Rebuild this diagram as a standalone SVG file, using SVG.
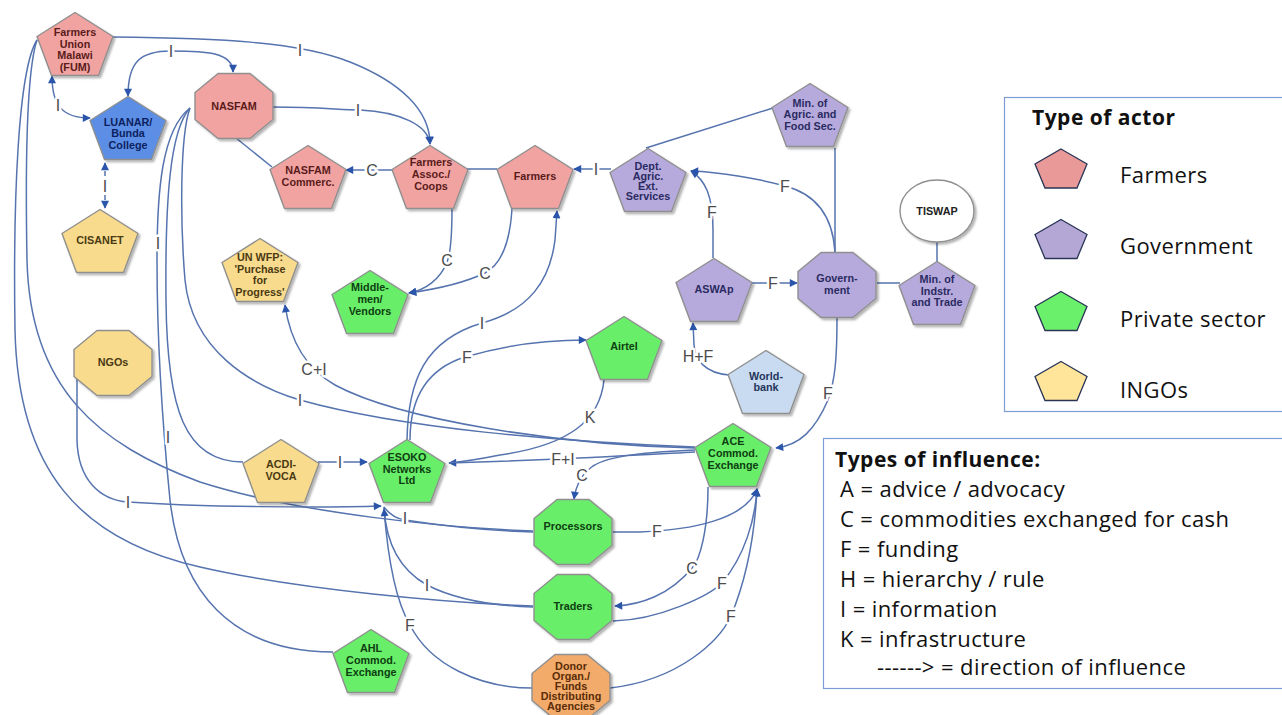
<svg xmlns="http://www.w3.org/2000/svg" xmlns:xlink="http://www.w3.org/1999/xlink" width="1282" height="715" viewBox="0 0 1282 715">
<style>
.bg{fill:#fff}
.shape{stroke:#8f8f8f;stroke-width:1.4;stroke-linejoin:round;filter:url(#sh)}
.pink .shape{fill:#f1a3a1}.pink text{fill:#5a1b1b}
.purple .shape{fill:#b6aadc}.purple text{fill:#2b2a62}
.green .shape{fill:#69ee6b}.green text{fill:#0d3f10}
.yellow .shape{fill:#f9db8e}.yellow text{fill:#4a3a12}
.blue .shape{fill:#5b8ee6}.blue text{fill:#0c1f5e}
.lblue .shape{fill:#c9dbf1}.lblue text{fill:#24365a}
.orange .shape{fill:#f2ab6b}.orange text{fill:#5a2c08}
.white .shape{fill:#fff}.white text{fill:#222}
.node text{font-family:"Liberation Sans",Arial,sans-serif;font-weight:bold;font-size:10.8px;text-anchor:middle}
.edges path{fill:none;stroke:#5573ae;stroke-width:1.5}
.edges .dash{stroke-dasharray:5 3}
.lab text{font-family:"Liberation Sans",Arial,sans-serif;font-size:16px;fill:#4d4d4d;text-anchor:middle;stroke:#fff;stroke-width:5;paint-order:stroke;stroke-linejoin:round}
.leg rect{fill:#fff;stroke:#7c9cd6;stroke-width:1.2}
.leg text{font-family:"Open Sans","Liberation Sans",sans-serif;font-size:22px;letter-spacing:0.4px;fill:#111}
.leg .t{font-weight:bold;font-size:21px;letter-spacing:0.5px}
.leg .ls{stroke:#2a3556;stroke-width:1.3}
</style>
<defs>
<filter id="sh" x="-20%" y="-20%" width="150%" height="150%"><feDropShadow dx="2" dy="2" stdDeviation="1.3" flood-color="#000" flood-opacity="0.3"/></filter>
<path id="pent" d="M0,-31.5 L38,-7.5 L23.5,31.5 L-23.5,31.5 L-38,-7.5 Z"/>
<path id="oct" d="M-16,-32.5 L16,-32.5 L39,-13.5 L39,13.5 L16,32.5 L-16,32.5 L-39,13.5 L-39,-13.5 Z"/>
<path id="lpent" d="M0,-19.5 L26,-4.5 L16,19.5 L-16,19.5 L-26,-4.5 Z"/>
<marker id="arr" viewBox="0 0 10 10" refX="9" refY="5" markerWidth="9" markerHeight="8" markerUnits="userSpaceOnUse" orient="auto-start-reverse"><path d="M0,0 L10,5 L0,10 Z" fill="#2a55aa"/></marker>
</defs>
<rect class="bg" x="0" y="0" width="1282" height="715"/>

<g id="connectors" class="edges">
<path d="M128,96 C128,62 140,51 171,51 C205,51 233,52 233,72" marker-start="url(#arr)" marker-end="url(#arr)"/>
<path d="M113,37 C220,38 300,42 350,62 C400,82 430,110 430,144" marker-end="url(#arr)"/>
<path d="M52,76 C52,105 62,118 90,118" marker-start="url(#arr)" marker-end="url(#arr)"/>
<path class="dash" d="M105,163 L105,208" marker-start="url(#arr)" marker-end="url(#arr)"/>
<path d="M273,107 C320,107 340,110 360,110 C400,112 428,125 430,144" marker-end="url(#arr)"/>
<path d="M236,138 L272,167"/>
<path d="M393,170 L346,170" marker-end="url(#arr)"/>
<path d="M467,169 L497,169"/>
<path d="M611,169 L574,169" marker-end="url(#arr)"/>
<path d="M773,108 L646,148"/>
<path d="M835,148 L835,253"/>
<path d="M835,252 C833,220 820,195 785,186 C760,179 720,172 691,171" marker-end="url(#arr)"/>
<path d="M713,258 L713,230 C713,195 705,180 691,171" marker-end="url(#arr)"/>
<path d="M752,283 L797,283" marker-end="url(#arr)"/>
<path d="M877,283 L900,283"/>
<path d="M937,242 L937,262"/>
<path d="M729,375 C705,373 695,360 694,345 L693,323" marker-end="url(#arr)"/>
<path d="M837,318 C837,360 835,380 828,400 C815,430 800,445 776,448" marker-end="url(#arr)"/>
<path d="M695,452 C640,455 560,460 449,463" marker-end="url(#arr)"/>
<path d="M604,380 C600,420 570,445 500,455 C475,460 460,462 449,463"/>
<path d="M410,440 C410,395 430,368 465,357 C505,345 545,340 586,340" marker-end="url(#arr)"/>
<path d="M407,440 C408,380 425,340 482,323 C530,310 550,280 555,240 L557,211" marker-end="url(#arr)"/>
<path d="M452,208 C452,240 450,255 447,262 C440,280 425,290 409,293" marker-end="url(#arr)"/>
<path d="M512,208 C510,245 500,265 485,273 C460,285 430,290 409,293" marker-end="url(#arr)"/>
<path d="M695,448 C560,445 400,420 335,385 C305,368 290,340 285,305" marker-end="url(#arr)"/>
<path d="M190,108 C180,135 180,220 185,280 C192,350 250,385 300,400 C400,428 560,442 695,447"/>
<path d="M190,108 C170,130 165,200 166,300 C167,410 185,462 243,462"/>
<path d="M190,108 C162,130 157,190 157,260 C157,350 163,430 170,500 C180,590 230,652 333,652"/>
<path d="M37,40 C18,70 13,200 15,330 C18,470 80,540 200,567 C300,590 450,603 533,606"/>
<path d="M37,40 C27,70 25,150 27,260 C30,390 100,445 200,482 C300,514 450,528 533,531"/>
<path d="M77,366 L77,440 C78,480 100,500 128,502 C200,507 320,508 381,506" marker-end="url(#arr)"/>
<path d="M384,507 C390,515 398,519 405,520 C450,527 500,531 533,532"/>
<path d="M384,507 C386,545 400,570 427,585 C460,602 500,606 533,607"/>
<path d="M384,509 C388,560 395,600 410,625 C430,665 480,688 532,688" marker-start="url(#arr)"/>
<path d="M318,462 L367,462" marker-end="url(#arr)"/>
<path d="M695,450 C650,452 610,455 593,466 C583,473 576,485 574,499" marker-end="url(#arr)"/>
<path d="M708,487 C708,530 700,560 692,568 C670,595 640,605 615,606" marker-end="url(#arr)"/>
<path d="M613,532 L640,532 C690,530 745,520 757,489" marker-end="url(#arr)"/>
<path d="M613,621 C660,620 710,595 722,583 C745,555 755,520 757,489" marker-end="url(#arr)"/>
<path d="M610,688 C680,680 720,640 731,616 C748,575 755,530 757,489" marker-end="url(#arr)"/>
</g>

<g id="edge-labels" class="lab">
<text x="171" y="57">I</text>
<text x="300" y="56">I</text>
<text x="58" y="111">I</text>
<text x="105" y="192">I</text>
<text x="358" y="116">I</text>
<text x="372" y="176">C</text>
<text x="596" y="175">I</text>
<text x="785" y="192">F</text>
<text x="712" y="218">F</text>
<text x="773" y="289">F</text>
<text x="698" y="362">H+F</text>
<text x="828" y="399">F</text>
<text x="563" y="465">F+I</text>
<text x="590" y="423">K</text>
<text x="467" y="363">F</text>
<text x="482" y="329">I</text>
<text x="447" y="266">C</text>
<text x="485" y="279">C</text>
<text x="314" y="375">C+I</text>
<text x="300" y="406">I</text>
<text x="158" y="249">I</text>
<text x="168" y="443">I</text>
<text x="128" y="508">I</text>
<text x="405" y="524">I</text>
<text x="427" y="591">I</text>
<text x="410" y="631">F</text>
<text x="340" y="468">I</text>
<text x="582" y="481">C</text>
<text x="692" y="574">C</text>
<text x="657" y="537">F</text>
<text x="722" y="589">F</text>
<text x="731" y="622">F</text>
</g>

<g id="n-fum" class="node pink"><use href="#pent" class="shape" x="75" y="44"/><text><tspan x="75" y="36">Farmers</tspan><tspan x="75" y="48">Union</tspan><tspan x="75" y="59">Malawi</tspan><tspan x="75" y="71">(FUM)</tspan></text></g>
<g id="n-luanar" class="node blue"><use href="#pent" class="shape" x="128" y="128"/><text><tspan x="128" y="126">LUANAR/</tspan><tspan x="128" y="137">Bunda</tspan><tspan x="128" y="149">College</tspan></text></g>
<g id="n-cisanet" class="node yellow"><use href="#pent" class="shape" x="100" y="241"/><text x="100" y="244">CISANET</text></g>
<g id="n-nasfam" class="node pink"><use href="#oct" class="shape" x="234" y="106"/><text x="234" y="110">NASFAM</text></g>
<g id="n-nasfamc" class="node pink"><use href="#pent" class="shape" x="308" y="177"/><text><tspan x="308" y="174">NASFAM</tspan><tspan x="308" y="186">Commerc.</tspan></text></g>
<g id="n-assoc" class="node pink"><use href="#pent" class="shape" x="430" y="177"/><text><tspan x="431" y="166">Farmers</tspan><tspan x="431" y="178">Assoc./</tspan><tspan x="431" y="190">Coops</tspan></text></g>
<g id="n-farmers" class="node pink"><use href="#pent" class="shape" x="535" y="177"/><text x="535" y="180">Farmers</text></g>
<g id="n-dept" class="node purple"><use href="#pent" class="shape" x="648" y="180"/><text><tspan x="648" y="170">Dept.</tspan><tspan x="648" y="180">Agric.</tspan><tspan x="648" y="190">Ext.</tspan><tspan x="648" y="200">Services</tspan></text></g>
<g id="n-minagric" class="node purple"><use href="#pent" class="shape" x="810" y="115"/><text><tspan x="810" y="107">Min. of</tspan><tspan x="810" y="118">Agric. and</tspan><tspan x="810" y="130">Food Sec.</tspan></text></g>
<g id="n-aswap" class="node purple"><use href="#pent" class="shape" x="714" y="290"/><text x="714" y="293">ASWAp</text></g>
<g id="n-gov" class="node purple"><use href="#oct" class="shape" x="837" y="285"/><text><tspan x="837" y="282">Govern-</tspan><tspan x="837" y="294">ment</tspan></text></g>
<g id="n-minind" class="node purple"><use href="#pent" class="shape" x="937" y="293"/><text><tspan x="937" y="283">Min. of</tspan><tspan x="937" y="295">Indstr.</tspan><tspan x="937" y="306">and Trade</tspan></text></g>
<g id="n-tiswap" class="node white"><ellipse class="shape" cx="937" cy="211" rx="37" ry="31"/><text x="937" y="215">TISWAP</text></g>
<g id="n-unwfp" class="node yellow"><use href="#pent" class="shape" x="260" y="270"/><text><tspan x="260" y="261">UN WFP:</tspan><tspan x="260" y="273">'Purchase</tspan><tspan x="260" y="284">for</tspan><tspan x="260" y="296">Progress'</tspan></text></g>
<g id="n-middle" class="node green"><use href="#pent" class="shape" x="370" y="302"/><text><tspan x="370" y="291">Middle-</tspan><tspan x="370" y="303">men/</tspan><tspan x="370" y="315">Vendors</tspan></text></g>
<g id="n-ngos" class="node yellow"><use href="#oct" class="shape" x="113" y="363"/><text x="113" y="366">NGOs</text></g>
<g id="n-acdi" class="node yellow"><use href="#pent" class="shape" x="281" y="471"/><text><tspan x="281" y="468">ACDI-</tspan><tspan x="281" y="480">VOCA</tspan></text></g>
<g id="n-esoko" class="node green"><use href="#pent" class="shape" x="407" y="471"/><text><tspan x="407" y="461">ESOKO</tspan><tspan x="407" y="473">Networks</tspan><tspan x="407" y="484">Ltd</tspan></text></g>
<g id="n-airtel" class="node green"><use href="#pent" class="shape" x="624" y="348"/><text x="624" y="350">Airtel</text></g>
<g id="n-worldbank" class="node lblue"><use href="#pent" class="shape" x="766" y="382"/><text><tspan x="766" y="380">World-</tspan><tspan x="766" y="391">bank</tspan></text></g>
<g id="n-ace" class="node green"><use href="#pent" class="shape" x="733" y="455"/><text><tspan x="733" y="445">ACE</tspan><tspan x="733" y="457">Commod.</tspan><tspan x="733" y="469">Exchange</tspan></text></g>
<g id="n-proc" class="node green"><use href="#oct" class="shape" x="573" y="532"/><text x="573" y="530">Processors</text></g>
<g id="n-traders" class="node green"><use href="#oct" class="shape" x="573" y="607"/><text x="573" y="610">Traders</text></g>
<g id="n-ahl" class="node green"><use href="#pent" class="shape" x="371" y="661"/><text><tspan x="371" y="652">AHL</tspan><tspan x="371" y="664">Commod.</tspan><tspan x="371" y="676">Exchange</tspan></text></g>
<g id="n-donor" class="node orange"><use href="#oct" class="shape" x="571" y="687"/><text><tspan x="571" y="670">Donor</tspan><tspan x="571" y="680">Organ./</tspan><tspan x="571" y="690">Funds</tspan><tspan x="571" y="700">Distributing</tspan><tspan x="571" y="710">Agencies</tspan></text></g>

<g id="legend-actors" class="leg">
<rect x="1004.5" y="97.5" width="290" height="314"/>
<text class="t" x="1032" y="125">Type of actor</text>
<use href="#lpent" class="ls" x="1061" y="168.5" fill="#ea9999"/>
<text x="1120" y="183">Farmers</text>
<use href="#lpent" class="ls" x="1061" y="239" fill="#b4a7d6"/>
<text x="1120" y="254">Government</text>
<use href="#lpent" class="ls" x="1061" y="311" fill="#6af06a"/>
<text x="1120" y="327">Private sector</text>
<use href="#lpent" class="ls" x="1061" y="381" fill="#ffe599"/>
<text x="1120" y="398">INGOs</text>
</g>
<g id="legend-influence" class="leg">
<rect x="823.5" y="438.5" width="470" height="250"/>
<text class="t" x="835" y="467">Types of influence:</text>
<text x="840" y="497">A = advice / advocacy</text>
<text x="840" y="527">C = commodities exchanged for cash</text>
<text x="840" y="557">F = funding</text>
<text x="840" y="587">H = hierarchy / rule</text>
<text x="840" y="617">I = information</text>
<text x="840" y="647">K = infrastructure</text>
<text x="877" y="675">------&gt; = direction of influence</text>
</g>
</svg>
